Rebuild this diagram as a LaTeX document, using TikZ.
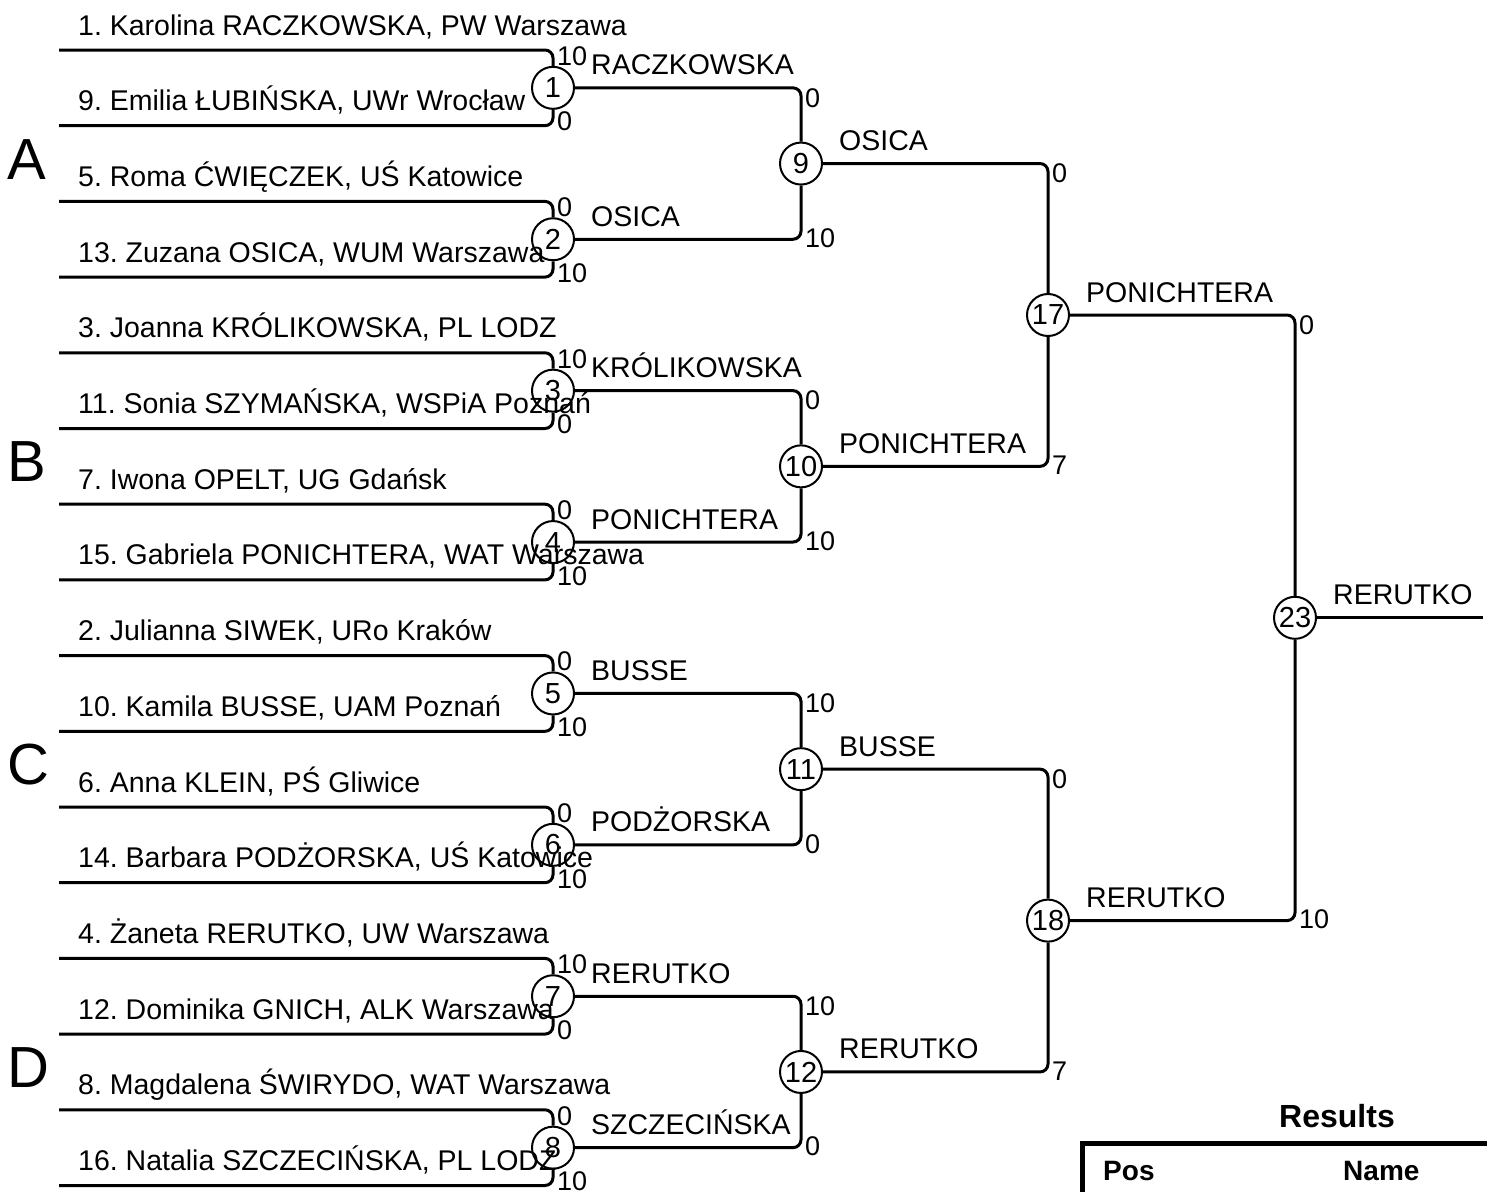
\documentclass[tikz,border=0pt]{standalone}
\usepackage{fontspec}
\setmainfont{Liberation Sans}
\frenchspacing
\tikzset{
  pl/.style={line width=3pt, rounded corners=8pt},
  mc/.style={circle, draw, line width=2pt, minimum size=42pt, inner sep=0pt, font=\fontsize{29}{29}\selectfont},
  nm/.style={anchor=base west, inner sep=0pt, font=\fontsize{28.5}{30}\selectfont},
  sc/.style={anchor=west, inner sep=0pt, font=\fontsize{27}{27}\selectfont},
  grp/.style={anchor=base west, inner sep=0pt, font=\fontsize{58}{60}\selectfont},
  hd/.style={inner sep=0pt, font=\fontsize{28}{30}\selectfont\bfseries},
}
\begin{document}
\begin{tikzpicture}[x=1pt,y=-1pt]
\useasboundingbox (0,0) rectangle (1487,1191);
% players
\foreach \t [count=\i from 0] in {
  {1. Karolina RACZKOWSKA, PW Warszawa},
  {9. Emilia ŁUBIŃSKA, UWr Wrocław},
  {5. Roma ĆWIĘCZEK, UŚ Katowice},
  {13. Zuzana OSICA, WUM Warszawa},
  {3. Joanna KRÓLIKOWSKA, PL LODZ},
  {11. Sonia SZYMAŃSKA, WSPiA Poznań},
  {7. Iwona OPELT, UG Gdańsk},
  {15. Gabriela PONICHTERA, WAT Warszawa},
  {2. Julianna SIWEK, URo Kraków},
  {10. Kamila BUSSE, UAM Poznań},
  {6. Anna KLEIN, PŚ Gliwice},
  {14. Barbara PODŻORSKA, UŚ Katowice},
  {4. Żaneta RERUTKO, UW Warszawa},
  {12. Dominika GNICH, ALK Warszawa},
  {8. Magdalena ŚWIRYDO, WAT Warszawa},
  {16. Natalia SZCZECIŃSKA, PL LODZ}} {
  \coordinate (s\i) at (59,{50+75.7*\i});
  \node[nm] (n\i) at (78,{35+75.7*\i}) {\t};
}
% round 1
\foreach \w [count=\j from 0] in {RACZKOWSKA,OSICA,KRÓLIKOWSKA,PONICHTERA,BUSSE,PODŻORSKA,RERUTKO,SZCZECIŃSKA} {
  \pgfmathtruncatemacro\k{\j+1}
  \pgfmathtruncatemacro\a{2*\j}
  \pgfmathtruncatemacro\b{2*\j+1}
  \node[mc] (m\k) at (553,{87.85+151.4*\j}) {\k};
  \draw[pl] (s\a) -| (m\k.north);
  \draw[pl] (s\b) -| (m\k.south);
  \node[nm] (w\k) at (591,{74.85+151.4*\j}) {\w};
}
% round 2
\foreach \w [count=\j from 0] in {OSICA,PONICHTERA,BUSSE,RERUTKO} {
  \pgfmathtruncatemacro\k{\j+9}
  \pgfmathtruncatemacro\a{2*\j+1}
  \pgfmathtruncatemacro\b{2*\j+2}
  \node[mc] (m\k) at (801,{163.55+302.8*\j}) {\k};
  \draw[pl] (m\a.east) -| (m\k.north);
  \draw[pl] (m\b.east) -| (m\k.south);
  \node[nm] (w\k) at (839,{150.55+302.8*\j}) {\w};
}
% round 3
\node[mc] (m17) at (1048,315) {17};
\node[mc] (m18) at (1048,920.6) {18};
\draw[pl] (m9.east) -| (m17.north);
\draw[pl] (m10.east) -| (m17.south);
\draw[pl] (m11.east) -| (m18.north);
\draw[pl] (m12.east) -| (m18.south);
\node[nm] (w17) at (1086,302) {PONICHTERA};
\node[nm] (w18) at (1086,907.6) {RERUTKO};
% final
\node[mc] (m23) at (1295,617.8) {23};
\coordinate (fin) at (1483,617.8);
\draw[pl] (m17.east) -| (m23.north);
\draw[pl] (m18.east) -| (m23.south);
\draw[pl] (m23.east) -- (fin);
\node[nm] (w23) at (1333,604.8) {RERUTKO};
% scores round 1
\foreach \t/\u [count=\j from 0] in {10/0,0/10,10/0,0/10,0/10,0/10,10/0,0/10} {
  \node[sc] (ta\j) at (557,{56+151.4*\j}) {\t};
  \node[sc] (tb\j) at (557,{121.7+151.4*\j}) {\u};
}
% scores round 2
\foreach \t/\u [count=\j from 0] in {0/10,0/10,10/0,10/0} {
  \node[sc] (ua\j) at (805,{97.85+302.8*\j}) {\t};
  \node[sc] (ub\j) at (805,{238.25+302.8*\j}) {\u};
}
% scores round 3
\node[sc] (va0) at (1052,173.55) {0};
\node[sc] (vb0) at (1052,465.4) {7};
\node[sc] (va1) at (1052,779.2) {0};
\node[sc] (vb1) at (1052,1071) {7};
% scores final
\node[sc] (fa) at (1299,325) {0};
\node[sc] (fb) at (1299,919.6) {10};
% groups
\node[grp] (gA) at (7,179) {A};
\node[grp] (gB) at (7,481.9) {B};
\node[grp] (gC) at (7,784.7) {C};
\node[grp] (gD) at (7,1087.5) {D};
% results
\node[hd, anchor=base, font=\fontsize{32}{32}\selectfont\bfseries] (res) at (1337,1127) {Results};
\draw[line width=5pt] (1082,1193) -- (1082,1143.5) -- (1490,1143.5);
\node[hd, anchor=base west] (pos) at (1103,1180) {Pos};
\node[hd, anchor=base west] (nam) at (1343,1180) {Name};
\end{tikzpicture}
\end{document}
